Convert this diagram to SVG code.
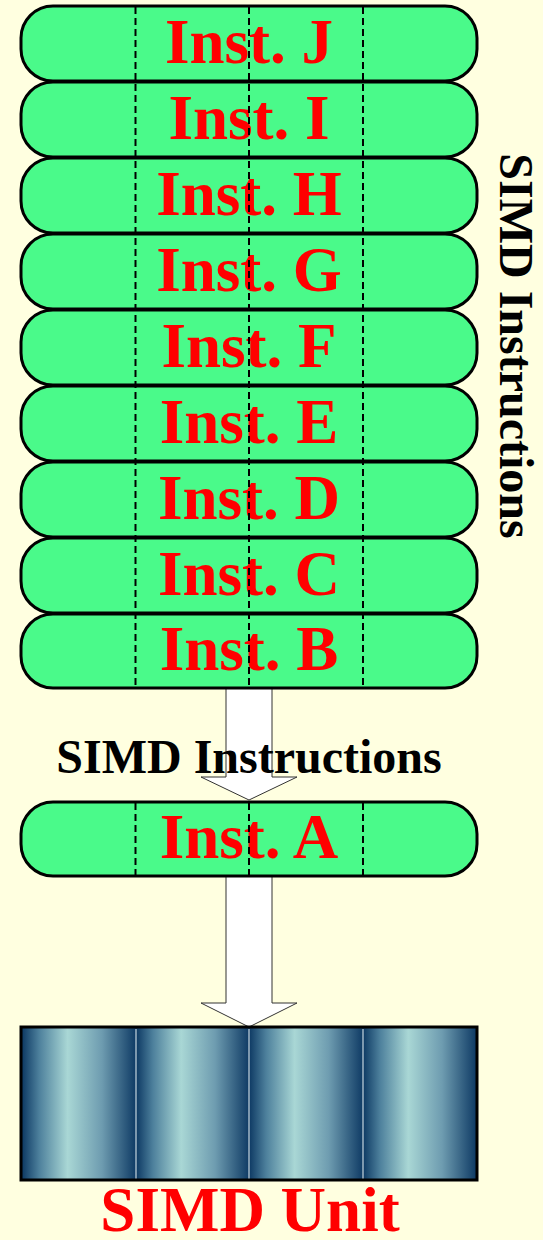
<svg xmlns="http://www.w3.org/2000/svg" width="543" height="1240" viewBox="0 0 543 1240">
<style>
.pill{fill:#4afa8a;stroke:#000;stroke-width:3}
.lbl{font-family:"Liberation Serif",serif;font-weight:bold;font-size:63px;fill:#ff0000;text-anchor:middle}
.dash{stroke:#000;stroke-width:2;stroke-dasharray:7,4;fill:none}
.blk{font-family:"Liberation Serif",serif;font-weight:bold;font-size:48px;fill:#000;text-anchor:middle}
.arrow{fill:#fff;stroke:#333;stroke-width:1}
.cell{fill:url(#cg)}
.sep{stroke:#c8d8e0;stroke-width:1.2}
</style>
<defs>
<linearGradient id="cg" x1="0" y1="0" x2="1" y2="0">
<stop offset="0" stop-color="#0d3963"/>
<stop offset="0.15" stop-color="#4d809c"/>
<stop offset="0.4" stop-color="#a9d7d5"/>
<stop offset="0.7" stop-color="#6e9cb0"/>
<stop offset="1" stop-color="#0f3b65"/>
</linearGradient>
</defs>
<rect x="0" y="0" width="543" height="1240" fill="#ffffe0"/>
<g id="connectors">
<path class="arrow" d="M226,688 L272,688 L272,777 L297,777 L249,800 L201,777 L226,777 Z"/>
<path class="arrow" d="M226,876 L272,876 L272,1003 L297,1003 L249,1027 L201,1003 L226,1003 Z"/>
</g>
<g id="inst-j"><rect class="pill" x="21" y="6" width="456" height="75" rx="32"/><text class="lbl" x="249" y="63">Inst. J</text></g>
<g id="inst-i"><rect class="pill" x="21" y="82" width="456" height="75" rx="32"/><text class="lbl" x="249" y="139">Inst. I</text></g>
<g id="inst-h"><rect class="pill" x="21" y="158" width="456" height="75" rx="32"/><text class="lbl" x="249" y="215">Inst. H</text></g>
<g id="inst-g"><rect class="pill" x="21" y="234" width="456" height="75" rx="32"/><text class="lbl" x="249" y="291">Inst. G</text></g>
<g id="inst-f"><rect class="pill" x="21" y="310" width="456" height="75" rx="32"/><text class="lbl" x="249" y="367">Inst. F</text></g>
<g id="inst-e"><rect class="pill" x="21" y="386" width="456" height="75" rx="32"/><text class="lbl" x="249" y="443">Inst. E</text></g>
<g id="inst-d"><rect class="pill" x="21" y="462" width="456" height="75" rx="32"/><text class="lbl" x="249" y="519">Inst. D</text></g>
<g id="inst-c"><rect class="pill" x="21" y="538" width="456" height="75" rx="32"/><text class="lbl" x="249" y="595">Inst. C</text></g>
<g id="inst-b"><rect class="pill" x="21" y="614" width="456" height="74" rx="32"/><text class="lbl" x="249" y="670">Inst. B</text></g>
<g id="stack-lanes">
<line class="dash" x1="135.5" y1="7" x2="135.5" y2="688"/>
<line class="dash" x1="249" y1="7" x2="249" y2="688"/>
<line class="dash" x1="363" y1="7" x2="363" y2="688"/>
</g>
<g id="label-mid"><text class="blk" x="249" y="773">SIMD Instructions</text></g>
<g id="label-side"><text class="blk" transform="translate(500,346) rotate(90)">SIMD Instructions</text></g>
<g id="inst-a"><rect class="pill" x="21" y="802" width="456" height="74" rx="32"/><text class="lbl" x="249" y="858">Inst. A</text>
<line class="dash" x1="135.5" y1="803" x2="135.5" y2="876"/>
<line class="dash" x1="249" y1="803" x2="249" y2="876"/>
<line class="dash" x1="363" y1="803" x2="363" y2="876"/>
</g>
<g id="simd-unit">
<rect class="cell" x="22" y="1028" width="114" height="152"/>
<rect class="cell" x="136" y="1028" width="113" height="152"/>
<rect class="cell" x="249" y="1028" width="114" height="152"/>
<rect class="cell" x="363" y="1028" width="113" height="152"/>
<line class="sep" x1="136" y1="1029" x2="136" y2="1179"/>
<line class="sep" x1="249" y1="1029" x2="249" y2="1179"/>
<line class="sep" x1="363" y1="1029" x2="363" y2="1179"/>
<rect x="21" y="1027" width="456" height="153" fill="none" stroke="#000" stroke-width="3"/>
<text class="lbl" x="250" y="1231" style="font-size:63px">SIMD Unit</text>
</g>
</svg>
